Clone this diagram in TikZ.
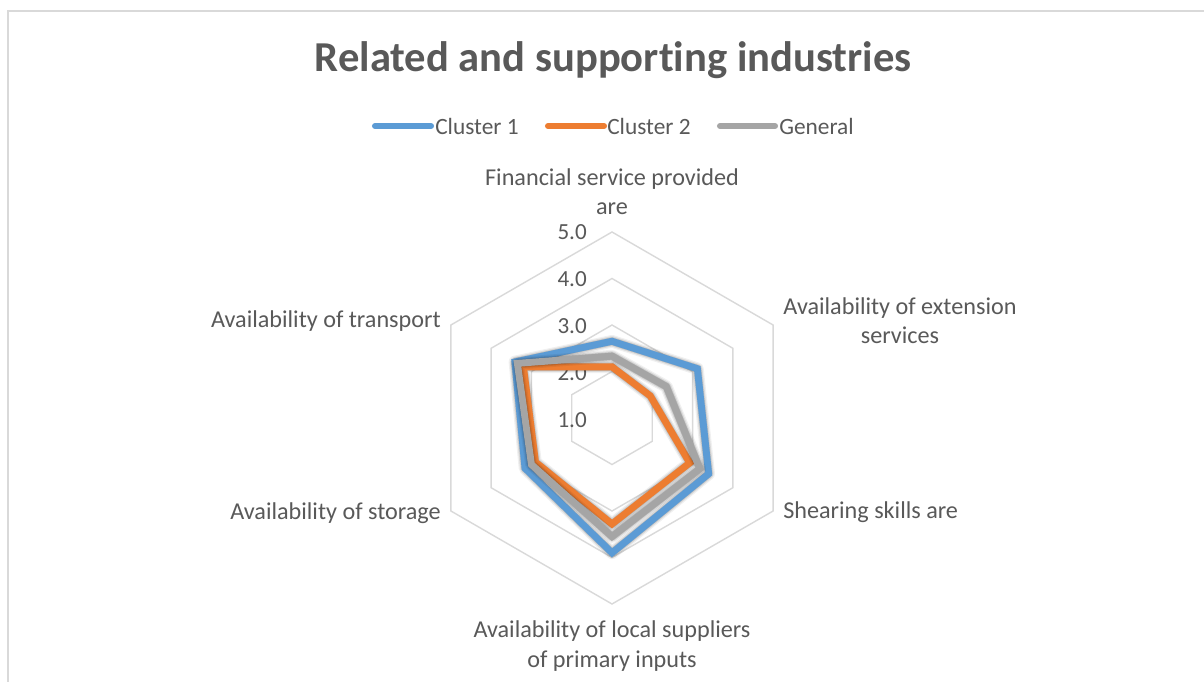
\documentclass[tikz,border=0pt]{standalone}
\usepackage{fontspec}
\setmainfont{Carlito}[Ligatures=NoCommon]
\definecolor{txt}{HTML}{595959}
\definecolor{gridc}{HTML}{D9D9D9}
\definecolor{cone}{HTML}{5B9BD5}
\definecolor{ctwo}{HTML}{ED7D31}
\definecolor{cgen}{HTML}{A5A5A5}
\tikzset{
  lbl/.style={font=\fontsize{17.2}{20.8}\selectfont, text=txt, inner sep=0pt},
  leglbl/.style={font=\fontsize{16.6}{20}\selectfont, text=txt, inner sep=0pt, anchor=west},
  ticklbl/.style={font=\fontsize{16.4}{19}\selectfont, text=txt, inner sep=0pt, anchor=east},
  gridline/.style={draw=gridc, line width=1pt},
  seriesline/.style={line width=4.9pt, line join=miter},
  legline/.style={line width=4.3pt, line cap=round},
}
\begin{document}
\begin{tikzpicture}[x=0.025cm, y=-0.025cm]
\useasboundingbox (0,0) rectangle (1204,682);
\fill[white] (0,0) rectangle (1204,682);
% chart border (top and left visible)
\draw[gridc, line width=1pt] (8,682) -- (8,11) -- (1204,11);

% title
\node[font=\fontsize{30.3}{34}\selectfont\bfseries, text=txt] (title) at (613,60) {Related and supporting industries};

% legend
\coordinate (l1a) at (375,126); \coordinate (l1b) at (431,126);
\coordinate (l2a) at (548,126); \coordinate (l2b) at (604,126);
\coordinate (l3a) at (720,126); \coordinate (l3b) at (775,126);
\draw[legline, cone] (l1a) -- (l1b);
\draw[legline, ctwo] (l2a) -- (l2b);
\draw[legline, cgen] (l3a) -- (l3b);
\node[leglbl] (leg1) at (435,126) {Cluster 1};
\node[leglbl] (leg2) at (607,126) {Cluster 2};
\node[leglbl] (leg3) at (779,126) {General};

% grid hexagons
\begin{scope}[shift={(612,418)}]
\foreach \R in {46.5,93,139.5,186}
  \draw[gridline] (90:\R) -- (30:\R) -- (-30:\R) -- (-90:\R) -- (-150:\R) -- (150:\R) -- cycle;
\end{scope}

% tick labels
\node[ticklbl] (t5) at (587,232) {5.0};
\node[ticklbl] (t4) at (587,279) {4.0};
\node[ticklbl] (t3) at (587,326) {3.0};
\node[ticklbl] (t2) at (587,373) {2.0};
\node[ticklbl] (t1) at (587,420) {1.0};

% series coordinates
\foreach \v [count=\i from 0] in {2.65,3.12,3.40,3.90,3.16,3.41}
  \coordinate (A\i) at ({612+46.5*(\v-1)*cos(90-60*\i)},{418-46.5*(\v-1)*sin(90-60*\i)});
\foreach \v [count=\i from 0] in {2.10,1.95,2.93,3.28,2.90,3.20}
  \coordinate (B\i) at ({612+46.5*(\v-1)*cos(90-60*\i)},{418-46.5*(\v-1)*sin(90-60*\i)});
\foreach \v [count=\i from 0] in {2.33,2.35,3.18,3.55,3.00,3.35}
  \coordinate (C\i) at ({612+46.5*(\v-1)*cos(90-60*\i)},{418-46.5*(\v-1)*sin(90-60*\i)});

% Cluster 1
\begin{scope}[shift={(1.5,2)}]
\foreach \w/\o in {9pt/0.06,7.2pt/0.09,5.6pt/0.14}
  \draw[line width=\w, black, opacity=\o, line join=round] (A0)--(A1)--(A2)--(A3)--(A4)--(A5)--cycle;
\end{scope}
\draw[seriesline, cone] (A0)--(A1)--(A2)--(A3)--(A4)--(A5)--cycle;
% Cluster 2
\begin{scope}[shift={(1.5,2)}]
\foreach \w/\o in {9pt/0.06,7.2pt/0.09,5.6pt/0.14}
  \draw[line width=\w, black, opacity=\o, line join=round] (B0)--(B1)--(B2)--(B3)--(B4)--(B5)--cycle;
\end{scope}
\draw[seriesline, ctwo] (B0)--(B1)--(B2)--(B3)--(B4)--(B5)--cycle;
% General
\begin{scope}[shift={(1.5,2)}]
\foreach \w/\o in {9pt/0.06,7.2pt/0.09,5.6pt/0.14}
  \draw[line width=\w, black, opacity=\o, line join=round] (C0)--(C1)--(C2)--(C3)--(C4)--(C5)--cycle;
\end{scope}
\draw[seriesline, cgen] (C0)--(C1)--(C2)--(C3)--(C4)--(C5)--cycle;

% category labels
\node[lbl, align=center] (cat0) at (612,192) {Financial service provided\\are};
\node[lbl, align=center] (cat1) at (900,321) {Availability of extension\\services};
\node[lbl, anchor=west] (cat2) at (783,512) {Shearing skills are};
\node[lbl, align=center] (cat3) at (612,646) {Availability of local suppliers\\of primary inputs};
\node[lbl, anchor=east] (cat4) at (441,513) {Availability of storage};
\node[lbl, anchor=east] (cat5) at (441,321) {Availability of transport};
\end{tikzpicture}
\end{document}
